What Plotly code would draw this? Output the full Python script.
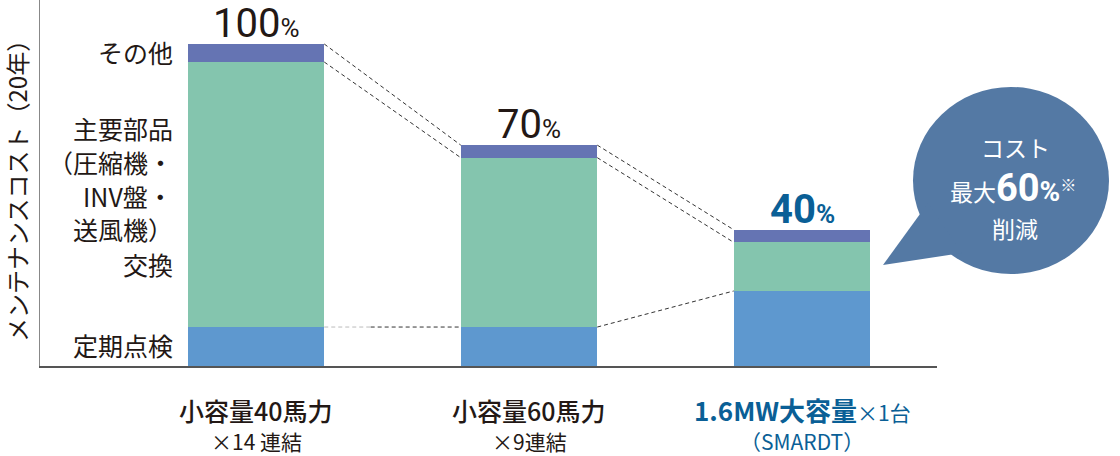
import plotly.graph_objects as go

# values (% of the 40hp x14 case)
x_pos = [0, 1, 2]
teiki = [12.1, 12.1, 23.3]       # 定期点検
buhin = [82.3, 52.6, 15.1]       # 主要部品交換
sonota = [5.6, 3.9, 3.9]         # その他
pct_labels = ["100", "70", "40"]

cat_main = ["小容量40馬力", "小容量60馬力", "1.6MW大容量"]
cat_suffix = ["", "", "×1台"]
cat_sub = ["×14 連結", "×9連結", "（SMARDT）"]

left_labels = ["その他", "主要部品", "（圧縮機・", "INV盤・", "送風機）", "交換", "定期点検"]
left_label_y = [52, 128, 162, 196, 229, 264, 345]   # pixel rows

JP = "Noto Sans CJK JP"
NUM = "Roboto, 'Noto Sans CJK JP'"
INK = "#231815"
BLUE = "#0a5f96"
W, H = 1120, 456
L, R, T, B = 40, 183, 0, 90
BAR_W = 0.5


def px(xp):
    return (xp - L) / (W - L - R)


def py(yp):
    return (H - B - yp) / (H - T - B)


fig = go.Figure()
fig.add_trace(go.Bar(x=x_pos, y=teiki, width=BAR_W, marker=dict(color="#5e98cf", line_width=0), name="定期点検"))
fig.add_trace(go.Bar(x=x_pos, y=buhin, width=BAR_W, marker=dict(color="#84c5ae", line_width=0), name="主要部品交換"))
fig.add_trace(go.Bar(x=x_pos, y=sonota, width=BAR_W, marker=dict(color="#6574b3", line_width=0), name="その他"))

# dashed connectors between bars
lvl1 = teiki
lvl2 = [a + b for a, b in zip(teiki, buhin)]
lvl3 = [a + b + c for a, b, c in zip(teiki, buhin, sonota)]
dash = dict(color="#333333", width=1, dash="4px,3px")
for lv in (lvl2, lvl3):
    for i in range(len(x_pos) - 1):
        fig.add_trace(go.Scatter(x=[x_pos[i] + BAR_W / 2, x_pos[i + 1] - BAR_W / 2], y=[lv[i], lv[i + 1]],
                                 mode="lines", line=dash, hoverinfo="skip"))
# bottom connector: first part faded
fig.add_trace(go.Scatter(x=[x_pos[0] + BAR_W / 2, 0.42], y=[lvl1[0], lvl1[0]], mode="lines",
                         line=dict(color="#bbbbbb", width=1, dash="4px,3px"), hoverinfo="skip"))
fig.add_trace(go.Scatter(x=[0.42, x_pos[1] - BAR_W / 2], y=[lvl1[0], lvl1[1]], mode="lines",
                         line=dash, hoverinfo="skip"))
fig.add_trace(go.Scatter(x=[x_pos[1] + BAR_W / 2, x_pos[2] - BAR_W / 2], y=[lvl1[1], lvl1[2]], mode="lines",
                         line=dash, hoverinfo="skip"))

ann = []
# total labels
for i, t in enumerate(pct_labels):
    last = i == len(pct_labels) - 1
    txt = f"{t}<span style='font-size:26px'>%</span>"
    if last:
        txt = f"<b>{txt}</b>"
    ann.append(dict(x=x_pos[i], y=lvl3[i], xref="x", yref="y", text=txt, showarrow=False,
                    xanchor="center", yanchor="bottom", yshift=-5,
                    font=dict(family=NUM, size=40, color=BLUE if last else INK)))

# category labels
for i in range(len(x_pos)):
    last = i == len(x_pos) - 1
    col = BLUE if last else INK
    if last:
        main = f"<b>{cat_main[i]}</b><span style='font-size:21px'>{cat_suffix[i]}</span>"
        wt = "normal"
        sz = 26
    else:
        main = cat_main[i]
        wt = 500
        sz = 25
    ann.append(dict(x=x_pos[i], y=py(410), xref="x", yref="paper", text=main, showarrow=False,
                    xanchor="center", yanchor="middle", font=dict(family=JP, size=sz, color=col, weight=wt)))
    ann.append(dict(x=x_pos[i], y=py(441), xref="x", yref="paper", text=cat_sub[i], showarrow=False,
                    xanchor="center", yanchor="middle", font=dict(family=JP, size=21, color=col)))

# left component labels
for lab, yy in zip(left_labels, left_label_y):
    ann.append(dict(x=px(175), y=py(yy), xref="paper", yref="paper", text=lab, showarrow=False,
                    xanchor="right", yanchor="middle", font=dict(family=JP, size=25, color=INK)))

# y title
ann.append(dict(x=px(16), y=py(185), xref="paper", yref="paper", text="メンテナンスコスト（20年）",
                showarrow=False, textangle=-90, xanchor="center", yanchor="middle",
                font=dict(family=JP, size=24, color=INK)))

# bubble text
bub_font = dict(family=JP, size=23, color="white")
ann.append(dict(x=px(1015), y=py(147), xref="paper", yref="paper", text="コスト", showarrow=False,
                xanchor="center", yanchor="middle", font=bub_font))
ann.append(dict(x=px(1013), y=py(188), xref="paper", yref="paper",
                text="最大<b><span style='font-family:Roboto;font-size:38px'>60</span>"
                     "<span style='font-family:Roboto;font-size:28px'>%</span></b><sup>※</sup>",
                showarrow=False, xanchor="center", yanchor="middle", font=bub_font))
ann.append(dict(x=px(1015), y=py(228), xref="paper", yref="paper", text="削減", showarrow=False,
                xanchor="center", yanchor="middle", font=bub_font))

bubble = "#5479a4"
shapes = [
    dict(type="circle", xref="paper", yref="paper", x0=px(913), x1=px(1109), y0=py(274), y1=py(87),
         fillcolor=bubble, line_width=0, layer="above"),
    dict(type="path", xref="paper", yref="paper",
         path=f"M {px(883)},{py(265)} L {px(928)},{py(203)} L {px(962)},{py(253)} Z",
         fillcolor=bubble, line_width=0, layer="above"),
]

fig.update_layout(
    width=W, height=H, barmode="stack", showlegend=False,
    margin=dict(l=L, r=R, t=T, b=B),
    paper_bgcolor="white", plot_bgcolor="white",
    xaxis=dict(range=[(L - 256) / 273, (937 - 256) / 273], showticklabels=False, showgrid=False,
               zeroline=False, showline=True, linecolor="#555555", linewidth=1.5, ticks=""),
    yaxis=dict(range=[0, 366 / 3.22], showticklabels=False, showgrid=False, zeroline=False,
               showline=True, linecolor="#888888", linewidth=1, ticks=""),
    annotations=ann, shapes=shapes,
)

fig.write_html("out.html", config={"displayModeBar": False},
               post_script="document.body.style.margin='0px';")
